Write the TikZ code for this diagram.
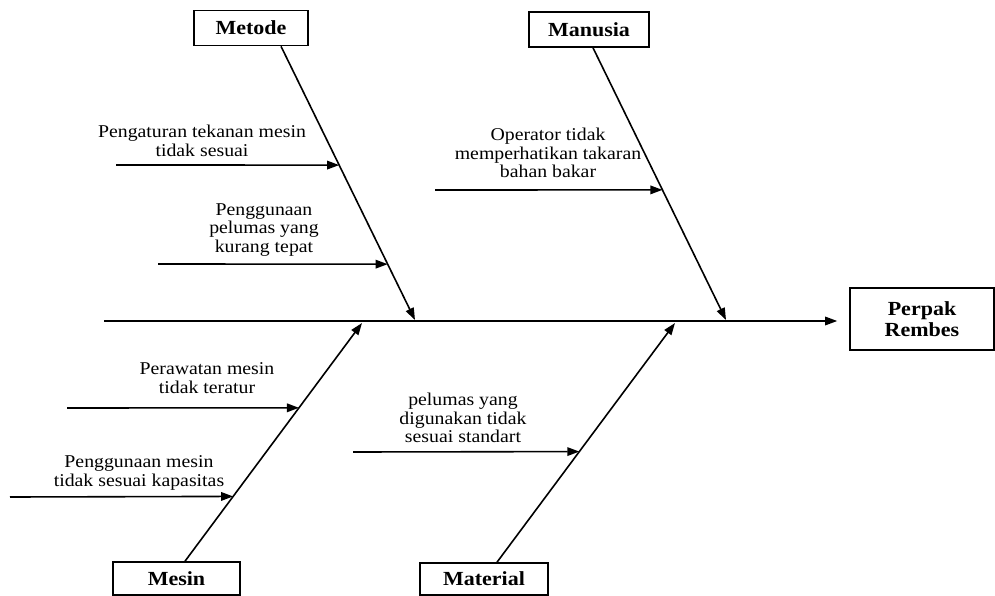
\documentclass[tikz,border=0pt]{standalone}
\usepackage{fontspec}
\setmainfont{Liberation Serif}[FakeStretch=1.1]
\usetikzlibrary{arrows.meta, positioning, calc}

\begin{document}
\begin{tikzpicture}[
		x=1pt, y=-1pt,
		box/.style={draw, line width=1.6pt, inner sep=0pt, minimum height=35pt, font=\fontsize{20}{21}\selectfont\bfseries},
		cause/.style={align=center, inner sep=0pt, font=\fontsize{18}{18.5}\selectfont},
		bone/.style={line width=1.6pt, -{Triangle[length=12pt, width=8.5pt]}}
		]
		\useasboundingbox (0,0) rectangle (995,596);
		\node[box, minimum width=114pt] (metode) at (251,28) {Metode};
		\node[box, minimum width=120pt] (manusia) at (589,29.5) {Manusia};
		\node[box, minimum width=144pt, minimum height=62pt, align=center] (perpak) at (922,319) {Perpak\\Rembes};
		\node[box, minimum width=127pt, minimum height=33pt] (mesin) at (176.5,578.5) {Mesin};
		\node[box, minimum width=128pt, minimum height=32pt] (material) at (484,579) {Material};
		\coordinate (tail) at (104,321);
		\coordinate (tmetode) at (415,320);
		\coordinate (tmanusia) at (726,320);
		\coordinate (tmesin) at (362,323);
		\coordinate (tmaterial) at (675,323);
		\coordinate (smetode) at ($(metode.south)+(30,0)$);
		\coordinate (smanusia) at ($(manusia.south)+(4,0)$);
		\coordinate (smesin) at ($(mesin.north)+(8.5,0)$);
		\coordinate (smaterial) at ($(material.north)+(13,0)$);
		\draw[bone, shorten >=12pt] (tail) -- (tail -| perpak.west);
		\draw[bone] (smetode) -- (tmetode);
		\draw[bone] (smanusia) -- (tmanusia);
		\draw[bone] (smesin) -- (tmesin);
		\draw[bone] (smaterial) -- (tmaterial);
		\node[cause] (c1) at (202,141) {Pengaturan tekanan mesin\\tidak sesuai};
		\node[cause] (c2) at (264,230) {Penggunaan\\pelumas yang\\kurang tepat};
		\node[cause] (c3) at (548,153) {Operator tidak\\memperhatikan takaran\\bahan bakar};
		\node[cause] (c4) at (207,378) {Perawatan mesin\\tidak teratur};
		\node[cause] (c5) at (139,473) {Penggunaan mesin\\tidak sesuai kapasitas};
		\node[cause] (c6) at (463,418) {pelumas yang\\digunakan tidak\\sesuai standart};
		\coordinate (a1) at (116,165);
		\coordinate (a2) at (158,264);
		\coordinate (a3) at (435,190);
		\coordinate (a4) at (67,408);
		\coordinate (a5) at (10,497);
		\coordinate (a6) at (353,452);
		\draw[bone] (a1) -- ($(smetode)!0.434!(tmetode)$);
		\draw[bone] (a2) -- ($(smetode)!0.796!(tmetode)$);
		\draw[bone] (a3) -- ($(smanusia)!0.522!(tmanusia)$);
		\draw[bone] (a4) -- ($(smesin)!0.644!(tmesin)$);
		\draw[bone] (a5) -- ($(smesin)!0.272!(tmesin)$);
		\draw[bone] (a6) -- ($(smaterial)!0.4625!(tmaterial)$);
	\end{tikzpicture}
\end{document}
